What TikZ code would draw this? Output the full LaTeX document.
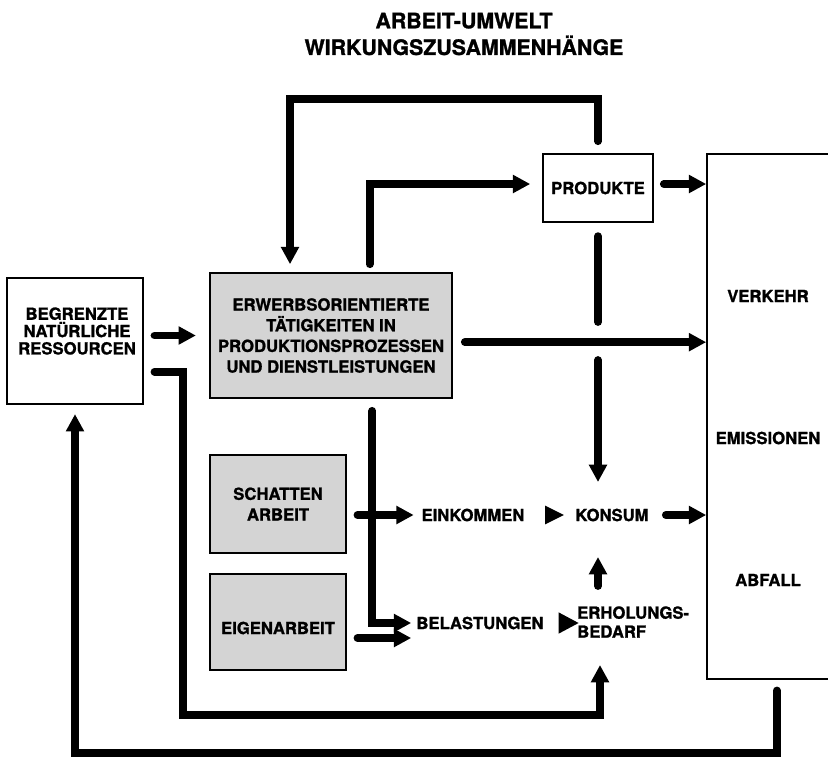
\documentclass[tikz,border=0pt]{standalone}
\usepackage{fontspec}
\setmainfont{TeX Gyre Heros}[BoldFeatures={FakeBold=1.2}]
\usetikzlibrary{arrows.meta,shapes.geometric}

\begin{document}
\begin{tikzpicture}[x=0.75pt,y=0.75pt,yscale=-1,xscale=1,
  box/.style={draw,line width=1.2pt,inner sep=0pt,align=center,font=\bfseries\fontsize{12.5}{15.5}\selectfont},
  shaded/.style={box,fill=black!17},
  lbl/.style={inner sep=0.75pt,align=center,font=\bfseries\fontsize{12.5}{14}\selectfont},
  flow/.style={line width=5.8pt,line cap=round},
  arr/.style={flow,-{Triangle[length=13pt,width=13pt]}},
  tri/.style={isosceles triangle,isosceles triangle stretches,fill,inner sep=0pt}
]
\useasboundingbox (0,0) rectangle (828,758);

% Title
\node[font=\bfseries\fontsize{16}{20}\selectfont,align=center] (title) at (464,34) {ARBEIT-UMWELT\\WIRKUNGSZUSAMMENHÄNGE};

% Boxes
\node[box,minimum width=102pt,minimum height=94.5pt] (res) at (75,341) {};
\node[lbl,font=\bfseries\fontsize{12.5}{13}\selectfont] (restxt) at (77,331) {BEGRENZTE\\NATÜRLICHE\\RESSOURCEN};
\node[shaded,minimum width=181.5pt,minimum height=93.75pt] (erw) at (331,335.5) {ERWERBSORIENTIERTE\\TÄTIGKEITEN IN\\PRODUKTIONSPROZESSEN\\UND DIENSTLEISTUNGEN};
\node[box,minimum width=82.5pt,minimum height=51pt] (prod) at (598,188) {PRODUKTE};
\node[box,minimum width=114.75pt,minimum height=393.75pt] (env) at (783.5,416.5) {};
\node[shaded,minimum width=102pt,minimum height=73.5pt] (schatten) at (278,504) {SCHATTEN\\ARBEIT};
\node[shaded,minimum width=102pt,minimum height=72pt] (eigen) at (278,622) {};
\node[lbl] (eigentxt) at (278,628) {EIGENARBEIT};

% Text Nodes
\node[lbl] (verkehr) at (768,296) {VERKEHR};
\node[lbl] (emis) at (768,438) {EMISSIONEN};
\node[lbl] (abfall) at (768,580) {ABFALL};
\node[lbl] (eink) at (473,515) {EINKOMMEN};
\node[lbl] (kons) at (612,515) {KONSUM};
\node[lbl] (bel) at (480,623) {BELASTUNGEN};
\node[lbl,align=left,anchor=west,font=\bfseries\fontsize{12.5}{14.2}\selectfont] (erh) at (576,622) {ERHOLUNGS-\\BEDARF};
\node[tri,minimum width=14pt,minimum height=14pt] (t1) at (551,515) {};
\node[tri,minimum width=16pt,minimum height=15pt] (t2) at (565,623) {};

% Coordinates
\coordinate (bendL) at (183,715);
\coordinate (erhin) at (600,665);
\coordinate (top) at (290,99);
\coordinate (gapT) at (598,322);
\coordinate (gapB) at (598,360);
\coordinate (konsin) at (598,482);
\coordinate (erhout) at (598,586);
\coordinate (konsup) at (598,557);
\coordinate (bendB) at (75,753);

% Connectors
\draw[arr,shorten <=8pt,shorten >=10pt] (res.east |- erw.west) -- (erw.west);
\draw[arr,shorten <=8pt] ([yshift=23pt]res.east) -| (bendL) -| (erhin);
\draw[arr,shorten <=9pt,shorten >=6pt] (prod.north) |- (top) -- (erw.north -| top);
\draw[arr,shorten <=6pt,shorten >=9pt] ([xshift=29pt]erw.north) |- ([yshift=-3pt]prod.west);
\draw[arr,shorten <=7.5pt] ([yshift=-3pt]prod.east) -- ([yshift=-3pt]prod.east -| env.west);
\draw[flow,shorten <=10pt] (prod.south) -- (gapT);
\draw[arr] (gapB) -- (konsin);
\draw[arr,shorten <=9pt] ([yshift=5pt]erw.east) -- ([yshift=5pt]erw.east -| env.west);
\draw[arr,shorten <=9pt,shorten >=3pt] ([xshift=31pt]erw.south) |- (bel.west);
\draw[arr,shorten <=8pt,shorten >=5pt] (schatten.east |- eink.west) -- (eink.west);
\draw[arr,shorten <=8pt,shorten >=3pt] ([yshift=12pt]eigen.east) -- ([yshift=12pt]eigen.east -| bel.west);
\draw[arr,shorten <=12pt] (kons.east) -- (kons.east -| env.west);
\draw[arr] (erhout) -- (konsup);
\draw[arr,shorten <=8pt,shorten >=7pt] ([xshift=-5pt]env.south) |- (bendB) -- (res.south);

\end{tikzpicture}
\end{document}
